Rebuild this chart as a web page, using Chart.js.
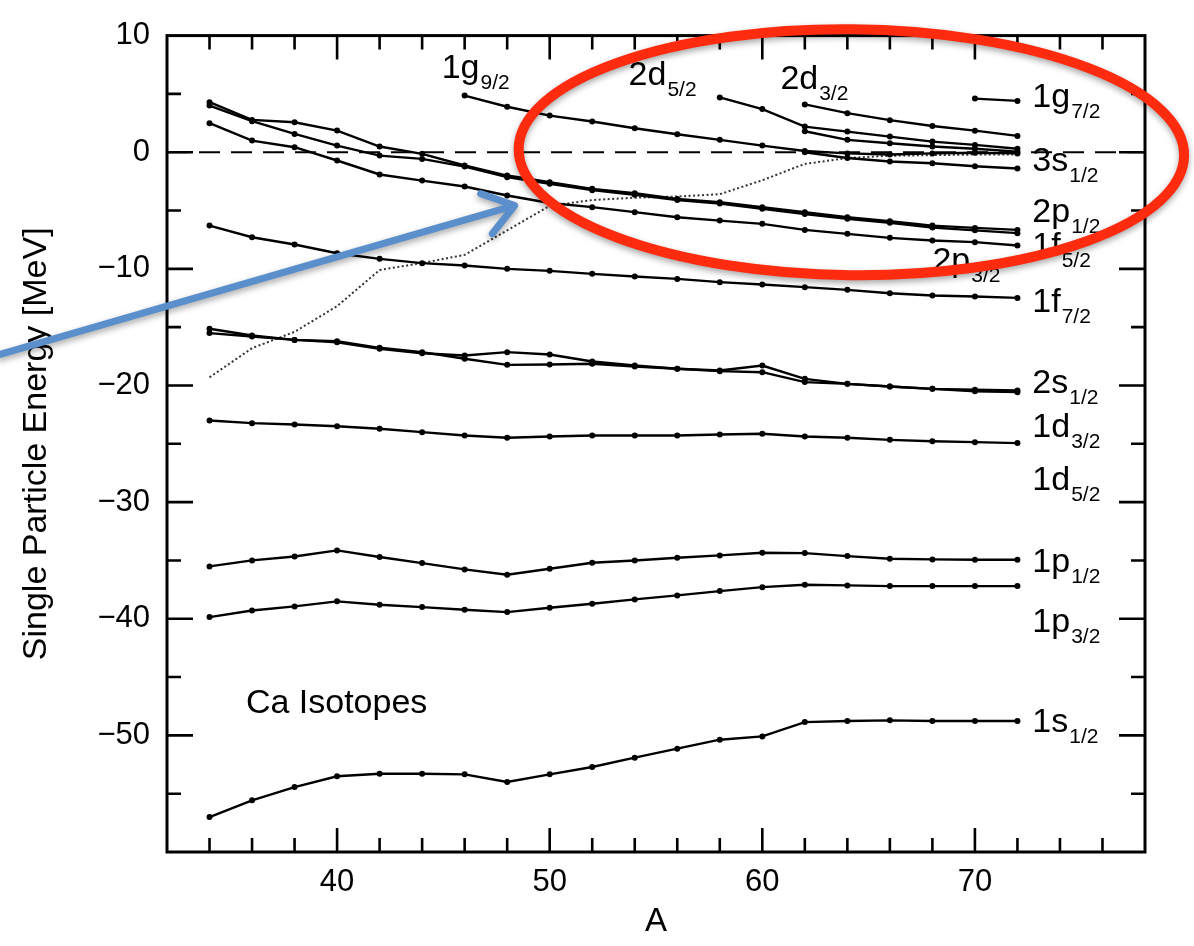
<!DOCTYPE html>
<html lang="en">
<head>
  <meta charset="UTF-8" />
  <title>Ca Isotopes - Single Particle Energy</title>
  <script src="https://cdn.jsdelivr.net/npm/chart.js"></script>
  <style>
    html, body { margin: 0; padding: 0; background: #fff; }
    #wrap { width: 1194px; height: 946px; position: relative; }
  </style>
</head>
<body>
  <div id="wrap"><canvas id="spChart"></canvas></div>

  <script>
    // mass number A (x axis)
    const massA = [34, 36, 38, 40, 42, 44, 46, 48, 50, 52, 54, 56, 58, 60, 62, 64, 66, 68, 70, 72];
    const xTicks = [40, 50, 60, 70];
    const yTicks = [10, 0, -10, -20, -30, -40, -50];

    // single particle energies [MeV]; short lists start later and all end at A=72
    const lvl2pA = [4.29, 2.77, 2.57, 1.86, 0.49, -0.14, -1.14, -2.0, -2.57, -3.14, -3.51, -4.0, -4.29, -4.71, -5.14, -5.57, -5.91, -6.29, -6.49, -6.66];
    const lvl2pB = [4.0, 2.66, 1.57, 0.57, -0.29, -0.57, -1.23, -2.14, -2.71, -3.25, -3.65, -4.1, -4.4, -4.85, -5.3, -5.7, -6.05, -6.45, -6.7, -6.94];
    const lvl1f52 = [2.49, 1.0, 0.43, -0.71, -1.91, -2.43, -2.94, -3.71, -4.35, -4.71, -5.14, -5.57, -5.86, -6.14, -6.66, -7.0, -7.34, -7.57, -7.71, -8.0];
    const lvl1f72 = [-6.29, -7.29, -7.91, -8.66, -9.14, -9.51, -9.71, -10.0, -10.17, -10.43, -10.66, -10.86, -11.14, -11.34, -11.57, -11.8, -12.09, -12.29, -12.37, -12.49];
    const lvl2s12 = [-15.14, -15.71, -16.09, -16.29, -16.86, -17.23, -17.43, -17.14, -17.34, -17.94, -18.29, -18.57, -18.71, -18.29, -19.43, -19.86, -20.09, -20.29, -20.37, -20.43];
    const lvl1d32 = [-15.51, -15.8, -16.09, -16.2, -16.77, -17.14, -17.71, -18.23, -18.2, -18.14, -18.37, -18.57, -18.77, -18.86, -19.71, -19.86, -20.09, -20.29, -20.49, -20.57];
    const lvl1d52 = [-23.0, -23.23, -23.34, -23.49, -23.71, -24.0, -24.29, -24.48, -24.37, -24.29, -24.29, -24.29, -24.2, -24.14, -24.37, -24.48, -24.66, -24.78, -24.86, -24.94];
    const lvl1p12 = [-35.51, -35.0, -34.66, -34.14, -34.71, -35.23, -35.77, -36.23, -35.71, -35.2, -35.0, -34.77, -34.57, -34.34, -34.37, -34.63, -34.86, -34.91, -34.94, -34.94];
    const lvl1p32 = [-39.86, -39.29, -38.94, -38.51, -38.8, -39.0, -39.23, -39.43, -39.06, -38.71, -38.34, -38.0, -37.63, -37.29, -37.09, -37.14, -37.2, -37.2, -37.2, -37.2];
    const lvl1s12 = [-57.0, -55.57, -54.43, -53.51, -53.29, -53.29, -53.34, -54.0, -53.34, -52.71, -51.91, -51.14, -50.37, -50.09, -48.86, -48.77, -48.71, -48.77, -48.77, -48.77];
    const lvl1g92 = [4.86, 3.9, 3.14, 2.63, 2.06, 1.54, 1.06, 0.57, 0.11, -0.1, -0.2, -0.1, -0.05, -0.1];
    const lvl2d52 = [4.7, 3.7, 2.2, 1.77, 1.34, 0.91, 0.63, 0.3];
    const lvl2d52b = [1.8, 1.06, 0.77, 0.49, 0.3, 0.05];
    const lvl2d32 = [4.1, 3.35, 2.75, 2.25, 1.85, 1.4];
    const lvl3s12 = [0.0, -0.5, -0.8, -0.95, -1.2, -1.4];
    const lvl1g72 = [4.6, 4.4];
    // dotted curve (Fermi level)
    const fermiE = [-19.3, -16.8, -15.4, -13.2, -10.1, -9.5, -8.8, -6.7, -4.6, -4.1, -3.9, -3.8, -3.6, -2.4, -1.0, -0.5, -0.3, -0.25, -0.2, -0.2];
    // dashed zero line
    const zeroA = [32, 78];
    const zeroE = [0, 0];

    // level labels: text, subscript, A, E (left / baseline)
    const labelMain = ['1g', '2d', '2d', '1g', '3s', '2p', '1f', '2p', '1f', '2s', '1d', '1d', '1p', '1p', '1s'];
    const labelSub = ['9/2', '5/2', '3/2', '7/2', '1/2', '1/2', '5/2', '3/2', '7/2', '1/2', '3/2', '5/2', '1/2', '3/2', '1/2'];
    const labelA = [44.92, 53.71, 60.85, 72.7, 72.7, 72.7, 72.7, 68.0, 72.7, 72.7, 72.7, 72.7, 72.7, 72.7, 72.7];
    const labelE = [6.4, 5.8, 5.46, 3.92, -1.57, -6.02, -8.94, -10.22, -13.73, -20.67, -24.44, -28.98, -36.0, -41.15, -49.72];

    const levels = [lvl2pA, lvl2pB, lvl1f52, lvl1f72, lvl2s12, lvl1d32, lvl1d52, lvl1p12, lvl1p32, lvl1s12,
                    lvl1g92, lvl2d52, lvl2d52b, lvl2d32, lvl3s12, lvl1g72];

    function toPoints(ys) {
      const xs = massA.slice(massA.length - ys.length);
      return ys.map((e, i) => ({ x: xs[i], y: e }));
    }

    const datasets = levels.map(ys => ({
      data: toPoints(ys),
      borderColor: '#000',
      backgroundColor: '#000',
      borderWidth: 2.4,
      pointRadius: 3,
      pointBorderWidth: 0,
      tension: 0
    }));
    datasets.push({
      data: toPoints(fermiE),
      borderColor: '#333',
      borderWidth: 2,
      borderDash: [2, 2.5],
      pointRadius: 0,
      tension: 0
    });
    datasets.push({
      data: zeroA.map((a, i) => ({ x: a, y: zeroE[i] })),
      borderColor: '#000',
      borderWidth: 2,
      borderDash: [21, 11],
      pointRadius: 0
    });

    const FONT = '"Liberation Sans", Arial, Helvetica, sans-serif';

    const frameAndLabels = {
      id: 'frameAndLabels',
      afterDatasetsDraw(chart) {
        const { ctx, chartArea: a, scales: { x, y } } = chart;
        ctx.save();
        // frame
        ctx.strokeStyle = '#000';
        ctx.lineWidth = 3;
        ctx.strokeRect(a.left, a.top, a.right - a.left, a.bottom - a.top);
        // inward ticks on all four sides
        ctx.lineWidth = 2.6;
        ctx.beginPath();
        for (let v = 34; v <= 76; v += 2) {
          const px = x.getPixelForValue(v);
          const len = xTicks.includes(v) ? 24 : 14;
          ctx.moveTo(px, a.bottom); ctx.lineTo(px, a.bottom - len);
          ctx.moveTo(px, a.top); ctx.lineTo(px, a.top + len);
        }
        for (let v = -55; v <= 5; v += 5) {
          const py = y.getPixelForValue(v);
          const len = yTicks.includes(v) ? 26 : 14;
          ctx.moveTo(a.left, py); ctx.lineTo(a.left + len, py);
          ctx.moveTo(a.right, py); ctx.lineTo(a.right - len, py);
        }
        ctx.stroke();

        // level labels with subscripts
        ctx.fillStyle = '#000';
        ctx.textBaseline = 'alphabetic';
        ctx.textAlign = 'left';
        labelMain.forEach((t, i) => {
          const px = x.getPixelForValue(labelA[i]);
          const py = y.getPixelForValue(labelE[i]);
          ctx.font = '34px ' + FONT;
          ctx.fillText(t, px, py);
          const w = ctx.measureText(t).width;
          ctx.font = '21px ' + FONT;
          ctx.fillText(labelSub[i], px + w + 1, py + 11);
        });
        ctx.font = '34px ' + FONT;
        ctx.fillText('Ca Isotopes', x.getPixelForValue(35.71), y.getPixelForValue(-48.09));
        ctx.restore();
      },
      afterDraw(chart) {
        const { ctx, scales: { x, y } } = chart;
        ctx.save();
        ctx.shadowColor = 'rgba(0,0,0,0.35)';
        ctx.shadowBlur = 6;
        ctx.shadowOffsetY = 3;

        // red ellipse around the A > 50 region near E = 0
        const cx = x.getPixelForValue(64.19), cy = y.getPixelForValue(0);
        const rx = x.getPixelForValue(64.19 + 15.65) - cx;
        const ry = y.getPixelForValue(-10.54) - cy;
        ctx.strokeStyle = '#ff2b0f';
        ctx.lineWidth = 10;
        ctx.beginPath();
        ctx.ellipse(cx, cy, rx, ry, 0.01, 0, Math.PI * 2);
        ctx.stroke();

        // blue arrow pointing at the dotted curve
        const x0 = x.getPixelForValue(24.15), y0 = y.getPixelForValue(-17.33);
        const x1 = x.getPixelForValue(48.35), y1 = y.getPixelForValue(-4.57);
        const ang = Math.atan2(y1 - y0, x1 - x0);
        ctx.strokeStyle = '#5b8fcb';
        ctx.lineWidth = 7;
        ctx.lineCap = 'round';
        ctx.lineJoin = 'round';
        ctx.beginPath();
        ctx.moveTo(x0, y0);
        ctx.lineTo(x1 - 3 * Math.cos(ang), y1 - 3 * Math.sin(ang));
        ctx.moveTo(x1 - 36 * Math.cos(ang - 0.62), y1 - 36 * Math.sin(ang - 0.62));
        ctx.lineTo(x1, y1);
        ctx.lineTo(x1 - 36 * Math.cos(ang + 0.62), y1 - 36 * Math.sin(ang + 0.62));
        ctx.stroke();
        ctx.restore();
      }
    };

    new Chart(document.getElementById('spChart'), {
      type: 'line',
      data: { datasets },
      options: {
        responsive: true,
        maintainAspectRatio: false,
        animation: false,
        events: [],
        layout: { padding: { top: 35, right: 49, left: 0, bottom: 0 } },
        plugins: { legend: { display: false }, tooltip: { enabled: false } },
        scales: {
          x: {
            type: 'linear',
            min: 32,
            max: 78,
            grid: { display: false, drawTicks: false },
            border: { display: false },
            afterBuildTicks: s => { s.ticks = xTicks.map(v => ({ value: v })); },
            afterFit: s => { s.height = 94; },
            ticks: { color: '#000', padding: 12, font: { family: FONT, size: 31 } },
            title: { display: true, text: 'A', color: '#000', padding: { top: 4, bottom: 4 }, font: { family: FONT, size: 33 } }
          },
          y: {
            type: 'linear',
            min: -60,
            max: 10,
            grid: { display: false, drawTicks: false },
            border: { display: false },
            afterBuildTicks: s => { s.ticks = yTicks.map(v => ({ value: v })); },
            afterFit: s => { s.width = 167; },
            ticks: {
              color: '#000', padding: 17, font: { family: FONT, size: 31 },
              callback: v => (v < 0 ? '\u2212' + Math.abs(v) : String(v))
            },
            title: { display: true, text: 'Single Particle Energy [MeV]', color: '#000', padding: { top: 16, bottom: 4 }, font: { family: FONT, size: 34 } }
          }
        }
      },
      plugins: [frameAndLabels]
    });
  </script>
</body>
</html>
